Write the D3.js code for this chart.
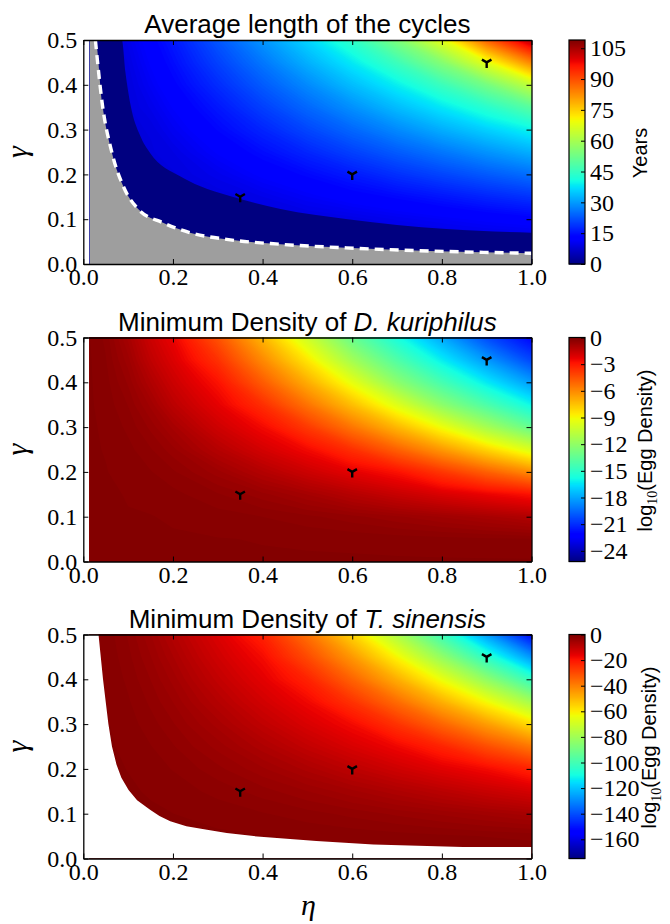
<!DOCTYPE html>
<html>
<head>
<meta charset="utf-8">
<script src="https://cdn.jsdelivr.net/npm/d3@7"></script>
<style>
  html, body { margin: 0; padding: 0; background: #fff; }
  svg { display: block; }
  .tick text { font-family: "Liberation Serif", "DejaVu Serif", serif; font-size: 24px; fill: #000; }
  .tick line, .domain { stroke: #000; }
  .title { font-family: "Liberation Sans", Arial, sans-serif; font-size: 26px; fill: #000; white-space: pre; }
  .cblabel { font-family: "Liberation Sans", Arial, sans-serif; font-size: 20px; fill: #000; }
  .axlabel { font-family: "Liberation Serif", "DejaVu Serif", serif; font-style: italic; font-size: 30px; fill: #000; }
</style>
</head>
<body>
<svg id="fig" width="670" height="924"></svg>
<script>
// ---- grid of the parameter sweep (eta across, gamma up) ----
const etaNodes   = [0.014, 0.05, 0.1, 0.15, 0.2, 0.3, 0.4, 0.5, 0.6, 0.7, 0.8, 0.9, 1.0];
const gammaNodes = [0, 0.05, 0.1, 0.15, 0.2, 0.25, 0.3, 0.35, 0.4, 0.45, 0.5];

// Average cycle length in years; one row per gamma node (gamma = 0 first)
const cycleYears = [
  [8, 8, 8, 8, 8, 8, 8, 8, 8, 8, 8, 8, 8],
  [8, 8.1, 8.1, 8.2, 8.2, 8.3, 8.4, 8.5, 8.5, 8.6, 8.7, 8.8, 8.8],
  [8, 8.1, 8.2, 8.3, 8.4, 8.6, 8.8, 8.9, 9.5, 10.5, 11.4, 12.3, 13.2],
  [8, 8.2, 8.3, 8.5, 8.6, 8.9, 9.9, 11.4, 12.9, 14.2, 15.7, 17.4, 19.0],
  [8, 8.3, 8.5, 8.7, 8.8, 10.2, 12.3, 14.2, 16.3, 18.7, 20.9, 23.2, 25.5],
  [8, 8.3, 8.6, 8.8, 9.4, 12.1, 14.7, 17.5, 20.5, 23.4, 26.3, 29.4, 32.5],
  [8, 8.4, 8.7, 9.0, 10.7, 14.0, 17.4, 21.1, 24.7, 28.4, 32.3, 36.0, 39.8],
  [8, 8.5, 8.8, 10.0, 12.0, 15.9, 20.3, 24.7, 29.1, 33.8, 38.3, 43.5, 49.9],
  [8, 8.5, 8.9, 11.1, 13.4, 18.2, 23.3, 28.4, 33.9, 39.2, 45.9, 53.7, 64.0],
  [8, 8.6, 9.4, 12.1, 14.7, 20.5, 26.3, 32.5, 38.6, 46.2, 55.7, 68.5, 84.0],
  [8, 8.7, 10.1, 13.1, 16.0, 22.8, 29.6, 36.5, 44.4, 54.8, 68.1, 88.0, 104]
];

// log10 of the minimum egg density of D. kuriphilus
const densityKuriphilus = [
  [-0.1, -0.1, -0.1, -0.1, -0.1, -0.1, -0.1, -0.1, -0.1, -0.1, -0.1, -0.1, -0.1],
  [-0.1, -0.1, -0.1, -0.1, -0.1, -0.11, -0.12, -0.13, -0.14, -0.16, -0.18, -0.2, -0.22],
  [-0.1, -0.1, -0.11, -0.11, -0.13, -0.17, -0.23, -0.31, -0.42, -0.55, -0.7, -0.87, -1.08],
  [-0.1, -0.1, -0.12, -0.15, -0.19, -0.33, -0.53, -0.81, -1.17, -1.55, -1.94, -2.33, -2.73],
  [-0.1, -0.11, -0.15, -0.22, -0.32, -0.64, -1.12, -1.65, -2.18, -2.71, -3.71, -4.83, -6.02],
  [-0.1, -0.12, -0.19, -0.33, -0.53, -1.15, -1.83, -2.5, -3.52, -4.86, -6.35, -7.96, -9.72],
  [-0.1, -0.13, -0.26, -0.49, -0.84, -1.7, -2.5, -3.79, -5.42, -7.17, -9.1, -11.3, -13.29],
  [-0.1, -0.155, -0.35, -0.72, -1.28, -2.21, -3.48, -5.34, -7.35, -9.56, -12.07, -14.04, -15.93],
  [-0.1, -0.18, -0.48, -1.03, -1.63, -2.72, -4.7, -6.89, -9.31, -12.09, -14.26, -16.28, -18.19],
  [-0.1, -0.22, -0.64, -1.37, -1.98, -3.55, -5.92, -8.45, -11.42, -13.95, -16.19, -18.26, -20.33],
  [-0.11, -0.26, -0.84, -1.64, -2.32, -4.45, -7.12, -10.09, -13.21, -15.65, -17.89, -20.2, -22.0]
];

// log10 of the minimum egg density of T. sinensis
const densitySinensis = [
  [-0.5, -0.5, -0.5, -0.5, -0.5, -0.5, -0.5, -0.5, -0.5, -0.5, -0.5, -0.5, -0.5],
  [-0.5, -0.51, -0.52, -0.54, -0.57, -0.65, -0.76, -0.89, -1.04, -1.22, -1.42, -1.64, -1.88],
  [-0.5, -0.52, -0.58, -0.67, -0.79, -1.1, -1.52, -2.04, -2.66, -3.37, -4.17, -5.05, -6.03],
  [-0.5, -0.55, -0.68, -0.88, -1.14, -1.86, -2.8, -3.97, -5.36, -6.95, -8.75, -10.8, -12.94],
  [-0.5, -0.59, -0.82, -1.17, -1.64, -2.91, -4.6, -6.68, -9.14, -11.8, -14.6, -17.51, -22.13],
  [-0.5, -0.64, -1.0, -1.55, -2.29, -4.28, -6.9, -10.06, -13.36, -16.84, -22.08, -29.88, -37.81],
  [-0.5, -0.7, -1.22, -2.02, -3.08, -5.94, -9.64, -13.5, -17.59, -25.1, -34.4, -44.81, -56.76],
  [-0.5, -0.77, -1.48, -2.57, -4.0, -7.9, -12.32, -16.94, -25.03, -35.77, -48.38, -62.23, -79.02],
  [-0.5, -0.86, -1.78, -3.2, -5.08, -9.95, -14.99, -21.97, -34.08, -48.03, -63.89, -83.12, -102.79],
  [-0.5, -0.95, -2.12, -3.92, -6.3, -11.9, -17.66, -29.41, -43.9, -61.33, -82.45, -104.39, -127.29],
  [-0.5, -1.06, -2.5, -4.71, -7.66, -13.84, -21.93, -36.85, -55.18, -77.09, -101.18, -126.25, -152]
];

// Band of the shortest cycles: its upper edge [eta, gamma], and its value (years)
const shortCycleEdge = [
  [0.014, 0.5], [0.086, 0.5], [0.094, 0.428], [0.105, 0.357], [0.127, 0.286], [0.149, 0.248],
  [0.216, 0.196], [0.26, 0.174], [0.327, 0.152], [0.44, 0.123], [0.59, 0.1], [0.81, 0.078], [1.0, 0.07]
];
const shortCycleYears = 0;

// Edge of the region without cycles (grey, dashed outline)
const noCycleEdge = [
  [0.014, 0.5], [0.027, 0.5], [0.042, 0.36], [0.064, 0.248], [0.089, 0.174], [0.123, 0.122],
  [0.178, 0.092], [0.238, 0.07], [0.32, 0.055], [0.44, 0.044], [0.587, 0.036], [0.773, 0.029], [1.0, 0.024]
];

// Edge of the region where T. sinensis does not persist
const noParasitoidEdge = [
  [0, 0.5], [0.034, 0.5], [0.038, 0.46], [0.044, 0.40], [0.05, 0.35], [0.056, 0.30], [0.064, 0.25],
  [0.074, 0.21], [0.085, 0.18], [0.101, 0.153], [0.12, 0.13], [0.149, 0.109], [0.17, 0.095],
  [0.194, 0.083], [0.23, 0.072], [0.276, 0.064], [0.32, 0.057], [0.38, 0.05], [0.52, 0.039],
  [0.647, 0.031], [0.847, 0.0255], [1.0, 0.0255]
];

// Parameter sets highlighted in every panel [eta, gamma]
const markedPoints = [[0.35, 0.15], [0.6, 0.2], [0.9, 0.45]];

const etaTicks   = [0, 0.2, 0.4, 0.6, 0.8, 1.0];
const gammaTicks = [0, 0.1, 0.2, 0.3, 0.4, 0.5];
const yearTicks  = [0, 15, 30, 45, 60, 75, 90, 105];
const kuriTicks  = [0, -3, -6, -9, -12, -15, -18, -21, -24];
const sinTicks   = [0, -20, -40, -60, -80, -100, -120, -140, -160];

// ---- jet colormap ----
const jetStops = [0, 0.11, 0.125, 0.34, 0.35, 0.375, 0.64, 0.65, 0.66, 0.89, 0.91, 1];
const jetRGB = [[0,0,0.5],[0,0,1],[0,0,1],[0,0.86,1],[0,0.9,0.968],[0.081,1,0.887],
                [0.935,1,0.032],[0.968,0.963,0],[1,0.926,0],[1,0.074,0],[0.909,0,0],[0.5,0,0]];
const jet = d3.scaleLinear().domain(jetStops)
  .range(jetRGB.map(c => d3.rgb(c[0]*255, c[1]*255, c[2]*255).toString()))
  .interpolate(d3.interpolateRgb).clamp(true);

// ---- layout ----
const plotLeft = 83.3, plotRight = 531.5, plotH = 224;
const panelTops = [40, 337.5, 634.5];
const cbLeft = 569, cbW = 16;

const svg = d3.select("#fig");
const x = d3.scaleLinear().domain([0, 1]).range([plotLeft, plotRight]);

const panels = [
  { grid: cycleYears, domain: [0, 109], levels: 220, ticks: yearTicks,
    title: [["Average length of the cycles", false]], label: "years", labelX: 647 },
  { grid: densityKuriphilus, domain: [-25.2, 0], levels: 220, ticks: kuriTicks,
    title: [["Minimum Density of ", false], ["D. kuriphilus", true]], label: "log", labelX: 652 },
  { grid: densitySinensis, domain: [-175, 0], levels: 220, ticks: sinTicks,
    title: [["Minimum Density of ", false], ["T. sinensis", true]], label: "log", labelX: 656 }
];

const nx = etaNodes.length, ny = gammaNodes.length;
// contour-grid coordinates -> parameter values (samples sit at cell centres)
const idxEta = d3.scaleLinear()
  .domain([0, ...d3.range(nx).map(i => i + 0.5), nx])
  .range([etaNodes[0], ...etaNodes, etaNodes[nx - 1]]);
const idxGamma = d3.scaleLinear()
  .domain([0, ...d3.range(ny).map(i => i + 0.5), ny])
  .range([gammaNodes[0], ...gammaNodes, gammaNodes[ny - 1]]);

panels.forEach((p, k) => {
  const top = panelTops[k];
  const y = d3.scaleLinear().domain([0, 0.5]).range([top + plotH, top]);
  const color = v => jet((v - p.domain[0]) / (p.domain[1] - p.domain[0]));
  const step = (p.domain[1] - p.domain[0]) / p.levels;

  const clipId = "clip" + k;
  svg.append("clipPath").attr("id", clipId)
    .append("rect").attr("x", plotLeft).attr("y", top)
    .attr("width", plotRight - plotLeft).attr("height", plotH);

  const g = svg.append("g").attr("clip-path", `url(#${clipId})`);

  // filled field
  const thresholds = d3.range(p.domain[0], p.domain[1] + step, step);
  const bands = d3.contours().size([nx, ny]).thresholds(thresholds)(p.grid.flat())
    .filter(d => d.coordinates.length);
  const proj = d3.geoTransform({
    point(px, py) { this.stream.point(x(idxEta(px)), y(idxGamma(py))); }
  });
  const path = d3.geoPath(proj);
  g.selectAll("path.band").data(bands).join("path")
    .attr("class", "band")
    .attr("d", path)
    .attr("fill-rule", "evenodd")
    .attr("fill", d => color(d.value + step / 2));

  const area = d3.area().x(d => x(d[0])).y0(y(0)).y1(d => y(d[1])).curve(d3.curveMonotoneX);
  const line = d3.line().x(d => x(d[0])).y(d => y(d[1])).curve(d3.curveMonotoneX);

  if (k === 0) {
    g.append("path").datum(shortCycleEdge).attr("d", area).attr("fill", color(shortCycleYears));
    g.append("path").datum(noCycleEdge).attr("d", area).attr("fill", "#9e9e9e");
    g.append("path").datum(noCycleEdge.slice(1)).attr("d", line)
      .attr("fill", "none").attr("stroke", "#fff").attr("stroke-width", 3.4)
      .attr("stroke-dasharray", "9,6");
  }
  if (k === 2) {
    g.append("path").datum(noParasitoidEdge).attr("d", d3.area().x(d => x(d[0])).y0(y(0)).y1(d => y(d[1])))
      .attr("fill", "#fff");
  }

  // highlighted parameter sets (tri_down markers)
  const r = 5.5;
  g.selectAll("path.mark").data(markedPoints).join("path")
    .attr("class", "mark")
    .attr("transform", d => `translate(${x(d[0])},${y(d[1])})`)
    .attr("d", `M0,0L0,${r}M0,0L${-r*0.866},${-r*0.5}M0,0L${r*0.866},${-r*0.5}`)
    .attr("fill", "none").attr("stroke", "#000").attr("stroke-width", 2.4);

  // axes, ticks pointing inwards on all four sides
  const fmt = d3.format(".1f");
  svg.append("g").attr("transform", `translate(0,${top + plotH})`)
    .call(d3.axisBottom(x).tickValues(etaTicks).tickFormat(fmt).tickSizeInner(-5).tickSizeOuter(0).tickPadding(4));
  svg.append("g").attr("transform", `translate(0,${top})`)
    .call(d3.axisTop(x).tickValues(etaTicks).tickFormat("").tickSizeInner(-5).tickSizeOuter(0));
  svg.append("g").attr("transform", `translate(${plotLeft},0)`)
    .call(d3.axisLeft(y).tickValues(gammaTicks).tickFormat(fmt).tickSizeInner(-5).tickSizeOuter(0).tickPadding(6));
  svg.append("g").attr("transform", `translate(${plotRight},0)`)
    .call(d3.axisRight(y).tickValues(gammaTicks).tickFormat("").tickSizeInner(-5).tickSizeOuter(0));
  svg.selectAll(".domain").attr("stroke-width", 1.3);

  // y label
  svg.append("text").attr("class", "axlabel")
    .attr("transform", `translate(27,${top + plotH / 2}) rotate(-90)`)
    .attr("text-anchor", "middle").text("γ");

  // title
  const t = svg.append("text").attr("class", "title")
    .attr("x", (plotLeft + plotRight) / 2).attr("y", top - 6.7)
    .attr("text-anchor", "middle");
  p.title.forEach(([s, it]) => t.append("tspan").attr("font-style", it ? "italic" : "normal").text(s));

  // colour bar
  const cb = d3.scaleLinear().domain(p.domain).range([top + plotH, top]);
  const nSlices = 224;
  const dv = (p.domain[1] - p.domain[0]) / nSlices;
  svg.append("g").selectAll("rect").data(d3.range(nSlices).map(i => p.domain[0] + i * dv)).join("rect")
    .attr("x", cbLeft).attr("width", cbW)
    .attr("y", v => cb(v + dv))
    .attr("height", v => cb(v) - cb(v + dv) + 0.6)
    .attr("fill", v => color(v + dv / 2));
  svg.append("rect").attr("x", cbLeft).attr("y", top).attr("width", cbW).attr("height", plotH)
    .attr("fill", "none").attr("stroke", "#000").attr("stroke-width", 1.2);
  const cbAxis = svg.append("g").attr("transform", `translate(${cbLeft + cbW},0)`)
    .call(d3.axisRight(cb).tickValues(p.ticks).tickFormat(d3.format("d")).tickSizeInner(-4).tickSizeOuter(0).tickPadding(5));
  cbAxis.select(".domain").remove();

  // colour bar label
  const lab = svg.append("text").attr("class", "cblabel")
    .attr("transform", `translate(${p.labelX},${top + 113}) rotate(-90)`)
    .attr("text-anchor", "middle");
  if (p.label === "years") {
    lab.text("Years");
  } else {
    lab.append("tspan").text("log");
    lab.append("tspan").attr("dy", 5).attr("font-size", 14)
      .attr("font-family", "'Liberation Serif', serif").text("10");
    lab.append("tspan").attr("dy", -5).text("(Egg Density)");
  }
});

// x label
svg.append("text").attr("class", "axlabel")
  .attr("x", (plotLeft + plotRight) / 2 + 1).attr("y", 915)
  .attr("text-anchor", "middle").text("η");
</script>
</body>
</html>
